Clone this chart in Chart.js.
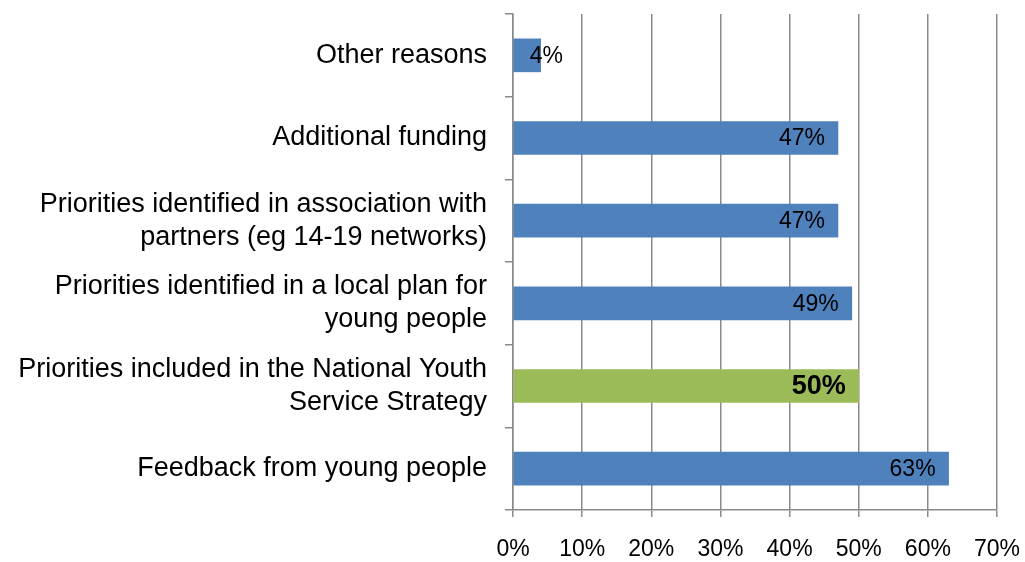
<!DOCTYPE html>
<html>
<head>
<meta charset="utf-8">
<script src="https://cdn.jsdelivr.net/npm/chart.js@4"></script>
<style>
  html, body { margin: 0; padding: 0; background: #fff; }
  #wrap { width: 1025px; height: 562px; }
</style>
</head>
<body>
<div id="wrap"><canvas id="chart"></canvas></div>
<script>
// Chart data
const categories = [
    'Other reasons',
    'Additional funding',
    ['Priorities identified in association with', 'partners (eg 14-19 networks)'],
    ['Priorities identified in a local plan for', 'young people'],
    ['Priorities included in the National Youth', 'Service Strategy'],
    'Feedback from young people'
];
const percentValues = [4, 47, 47, 49, 50, 63];
const highlightIndex = 4;
const xTicks = [0, 10, 20, 30, 40, 50, 60, 70];

const blue = '#4F81BD';
const green = '#9BBB59';
const gridGray = '#8a8a8a';
const fontFamily = '"Liberation Sans", Arial, sans-serif';

// Draw value labels at the inside end of each bar
const valueLabels = {
    id: 'valueLabels',
    afterDatasetsDraw(chart) {
        const ctx = chart.ctx;
        const meta = chart.getDatasetMeta(0);
        ctx.save();
        ctx.fillStyle = '#000';
        ctx.textBaseline = 'middle';
        ctx.textAlign = 'right';
        meta.data.forEach((bar, i) => {
            const bold = i === highlightIndex;
            ctx.font = (bold ? 'bold 27px ' : '23px ') + fontFamily;
            const text = percentValues[i] + '%';
            const w = ctx.measureText(text).width;
            let right = bar.x - 13;
            if (right - w < bar.base + 16) right = bar.base + 16 + w;
            ctx.fillText(text, right, bar.y + 1);
        });
        ctx.restore();
    }
};

const ctx = document.getElementById('chart').getContext('2d');
new Chart(ctx, {
    type: 'bar',
    data: {
        labels: categories,
        datasets: [{
            data: percentValues,
            backgroundColor: percentValues.map((v, i) => i === highlightIndex ? green : blue),
            barThickness: 33,
            borderWidth: 0
        }]
    },
    options: {
        indexAxis: 'y',
        responsive: true,
        maintainAspectRatio: false,
        animation: false,
        layout: { padding: { top: 14, right: 28, bottom: 0, left: 0 } },
        plugins: {
            legend: { display: false },
            tooltip: { enabled: false }
        },
        scales: {
            x: {
                min: 0,
                max: 70,
                afterBuildTicks: scale => { scale.ticks = xTicks.map(v => ({ value: v })); },
                afterFit: scale => {
                    scale.paddingLeft = 0;
                    scale.paddingRight = 0;
                    scale.height = 52;
                },
                ticks: {
                    callback: v => v + '%',
                    color: '#000',
                    font: { family: fontFamily, size: 23 },
                    padding: 19,
                    maxRotation: 0
                },
                grid: {
                    color: gridGray,
                    lineWidth: 1.5,
                    tickLength: 7
                },
                border: { color: gridGray, width: 1.5 }
            },
            y: {
                afterFit: scale => {
                    scale.width = 513;
                    scale.paddingTop = 0;
                    scale.paddingBottom = 0;
                },
                ticks: {
                    color: '#000',
                    font: { family: fontFamily, size: 27, lineHeight: 1.22 },
                    padding: 18,
                    autoSkip: false
                },
                grid: {
                    offset: true,
                    drawOnChartArea: false,
                    color: gridGray,
                    lineWidth: 1.5,
                    tickLength: 8
                },
                border: { color: gridGray, width: 1.5 }
            }
        }
    },
    plugins: [valueLabels]
});
</script>
</body>
</html>
